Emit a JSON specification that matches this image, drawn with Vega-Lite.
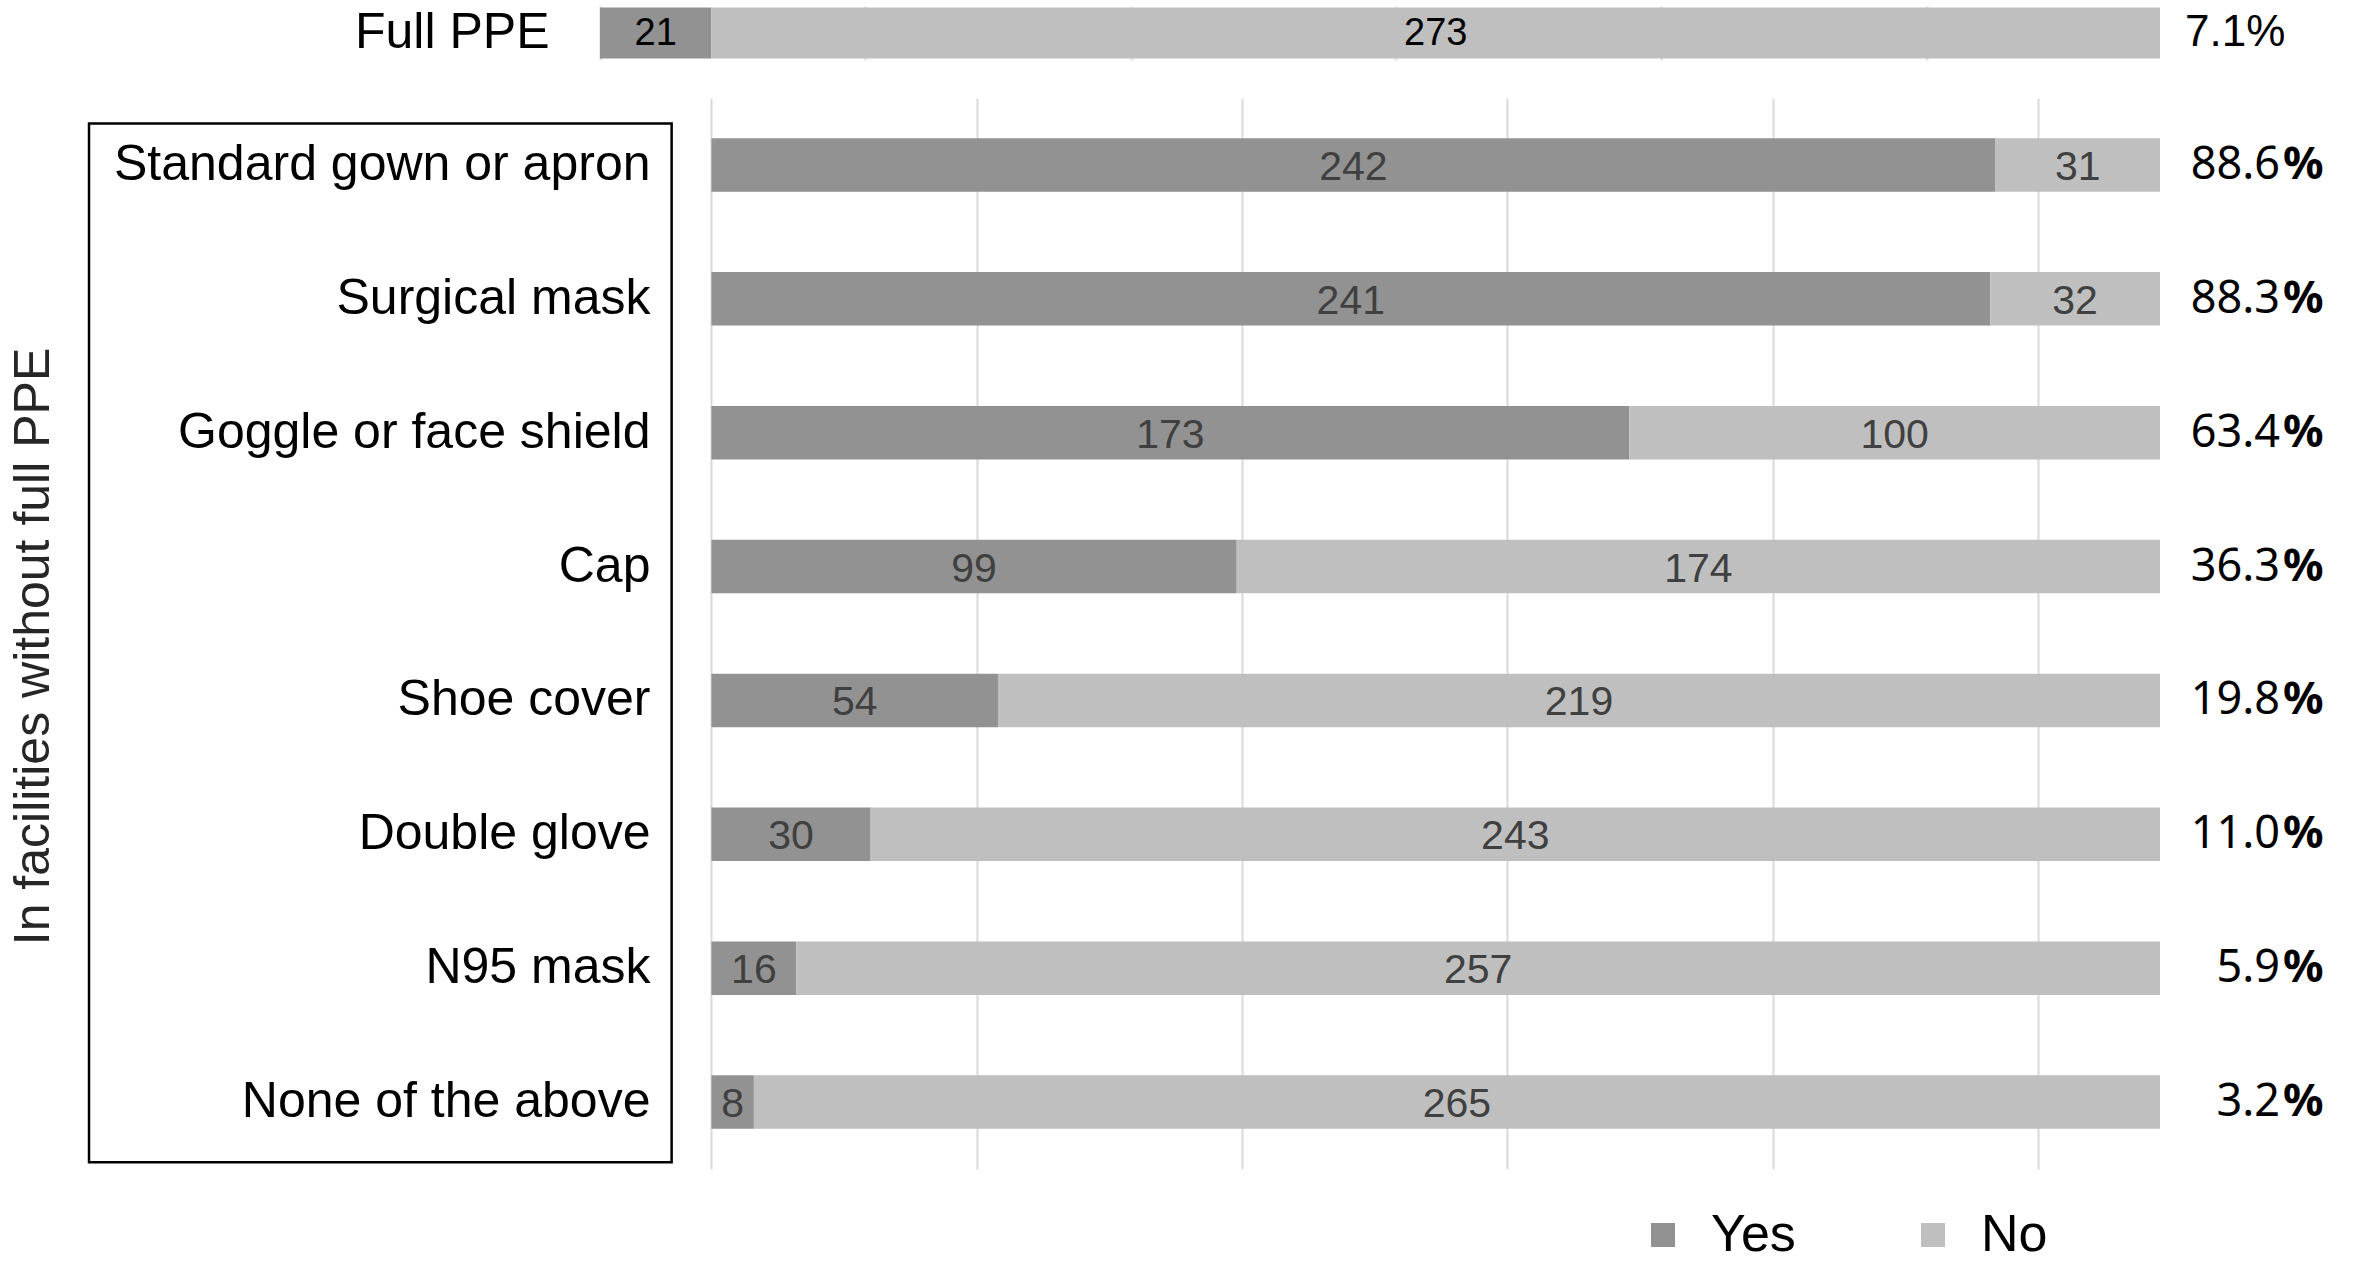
{
  "$schema": "https://vega.github.io/schema/vega-lite/v6.json",
  "background": "white",
  "autosize": {"type": "pad"},
  "padding": {"left": 8, "top": 6, "right": 5, "bottom": 5},
  "config": {
    "view": {"stroke": null},
    "concat": {"spacing": 38},
    "font": "Liberation Sans",
    "axis": {"gridColor": "#d9d9d9", "gridWidth": 2}
  },
  "datasets": {
    "full": [
      {"item": "Full PPE", "response": "Yes", "count": 21},
      {"item": "Full PPE", "response": "No", "count": 273}
    ],
    "fullpct": [{"item": "Full PPE", "pct": "7.1%"}],
    "main": [
      {"item": "Standard gown or apron", "response": "Yes", "count": 242},
      {"item": "Standard gown or apron", "response": "No", "count": 31},
      {"item": "Surgical mask", "response": "Yes", "count": 241},
      {"item": "Surgical mask", "response": "No", "count": 32},
      {"item": "Goggle or face shield", "response": "Yes", "count": 173},
      {"item": "Goggle or face shield", "response": "No", "count": 100},
      {"item": "Cap", "response": "Yes", "count": 99},
      {"item": "Cap", "response": "No", "count": 174},
      {"item": "Shoe cover", "response": "Yes", "count": 54},
      {"item": "Shoe cover", "response": "No", "count": 219},
      {"item": "Double glove", "response": "Yes", "count": 30},
      {"item": "Double glove", "response": "No", "count": 243},
      {"item": "N95 mask", "response": "Yes", "count": 16},
      {"item": "N95 mask", "response": "No", "count": 257},
      {"item": "None of the above", "response": "Yes", "count": 8},
      {"item": "None of the above", "response": "No", "count": 265}
    ],
    "mainpct": [
      {"item": "Standard gown or apron", "pct": "88.6"},
      {"item": "Surgical mask", "pct": "88.3"},
      {"item": "Goggle or face shield", "pct": "63.4"},
      {"item": "Cap", "pct": "36.3"},
      {"item": "Shoe cover", "pct": "19.8"},
      {"item": "Double glove", "pct": "11.0"},
      {"item": "N95 mask", "pct": "5.9"},
      {"item": "None of the above", "pct": "3.2"}
    ]
  },
  "vconcat": [
    {
      "width": 1560,
      "height": 54,
      "layer": [
        {
          "data": {"name": "full"},
          "mark": {"type": "bar"},
          "encoding": {
            "y": {"field": "item", "type": "nominal", "scale": {"paddingInner": 0, "paddingOuter": 0.03},
              "axis": {"title": null, "ticks": false, "domain": false, "labelFontSize": 50, "labelColor": "#000", "labelPadding": 51, "labelLimit": 1000}},
            "x": {"field": "count", "type": "quantitative", "stack": "zero", "scale": {"domain": [0, 294], "nice": false},
              "axis": {"title": null, "values": [0, 50, 100, 150, 200, 250], "labels": false, "ticks": false, "domain": false, "grid": true}},
            "color": {"field": "response", "type": "nominal",
              "scale": {"domain": ["Yes", "No"], "range": ["#929292", "#bfbfbf"]},
              "legend": {"orient": "none", "direction": "horizontal", "legendX": 1037, "legendY": 1203, "title": null,
                "symbolType": "square", "symbolSize": 576, "symbolStrokeWidth": 0, "labelFontSize": 52,
                "labelColor": "#000", "columnPadding": 111, "labelOffset": 22}},
            "order": {"field": "response", "sort": "descending"}
          }
        },
        {
          "data": {"name": "full"},
          "mark": {"type": "text", "fontSize": 38, "color": "#000", "baseline": "middle", "dy": 1},
          "encoding": {
            "y": {"field": "item", "type": "nominal"},
            "x": {"field": "count", "type": "quantitative", "stack": "zero", "bandPosition": 0.5},
            "detail": {"field": "response"},
            "order": {"field": "response", "sort": "descending"},
            "text": {"field": "count", "type": "quantitative"}
          }
        },
        {
          "data": {"name": "fullpct"},
          "mark": {"type": "text", "fontSize": 44, "color": "#000", "align": "left", "baseline": "middle", "dx": 25},
          "encoding": {
            "y": {"field": "item", "type": "nominal"},
            "x": {"datum": 294},
            "text": {"field": "pct"}
          }
        }
      ]
    },
    {
      "width": 1560,
      "height": 1071,
      "layer": [
        {
          "data": {"values": [{}]},
          "mark": {"type": "rect", "filled": false, "stroke": "#000", "strokeWidth": 2.5},
          "encoding": {
            "x": {"datum": -117.3},
            "x2": {"datum": -7.5},
            "y": {"datum": 0.19, "type": "quantitative", "scale": {"domain": [0, 8], "reverse": true, "nice": false, "zero": false}, "axis": null},
            "y2": {"datum": 7.95}
          }
        },
        {
          "data": {"name": "main"},
          "layer": [
            {
              "mark": {"type": "bar"},
              "encoding": {
                "y": {"field": "item", "type": "nominal", "sort": ["Standard gown or apron", "Surgical mask", "Goggle or face shield", "Cap", "Shoe cover", "Double glove", "N95 mask", "None of the above"],
                  "scale": {"paddingInner": 0.6, "paddingOuter": 0.3},
                  "axis": {"offset": -110, "labelPadding": 60, "ticks": false, "domain": false, "labelFontSize": 50, "labelColor": "#000", "labelLimit": 1000,
                    "title": "In facilities without full PPE", "titleFontSize": 50, "titleFontWeight": "normal", "titleColor": "#262626", "titlePadding": 452, "titleY": 548}},
                "x": {"field": "count", "type": "quantitative", "stack": "zero", "scale": {"domain": [-21, 273], "nice": false, "zero": false},
                  "axis": {"title": null, "values": [0, 50, 100, 150, 200, 250], "labels": false, "ticks": false, "domain": false, "grid": true}},
                "color": {"field": "response", "type": "nominal"},
                "order": {"field": "response", "sort": "descending"}
              }
            },
            {
              "mark": {"type": "text", "fontSize": 41, "color": "#404040", "baseline": "middle", "dy": 3},
              "encoding": {
                "y": {"field": "item", "type": "nominal", "sort": ["Standard gown or apron", "Surgical mask", "Goggle or face shield", "Cap", "Shoe cover", "Double glove", "N95 mask", "None of the above"]},
                "x": {"field": "count", "type": "quantitative", "stack": "zero", "bandPosition": 0.5},
                "detail": {"field": "response"},
                "order": {"field": "response", "sort": "descending"},
                "text": {"field": "count", "type": "quantitative"}
              }
            },
            {
              "data": {"name": "mainpct"},
              "mark": {"type": "text", "font": "Noto Sans", "fontSize": 45, "color": "#000", "align": "right", "baseline": "middle", "dx": 120},
              "encoding": {
                "y": {"field": "item", "type": "nominal", "sort": ["Standard gown or apron", "Surgical mask", "Goggle or face shield", "Cap", "Shoe cover", "Double glove", "N95 mask", "None of the above"]},
                "x": {"datum": 273},
                "text": {"field": "pct"}
              }
            },
            {
              "data": {"name": "mainpct"},
              "mark": {"type": "text", "font": "Noto Sans", "fontSize": 45, "fontWeight": "bold", "color": "#000", "align": "left", "baseline": "middle", "dx": 123},
              "encoding": {
                "y": {"field": "item", "type": "nominal", "sort": ["Standard gown or apron", "Surgical mask", "Goggle or face shield", "Cap", "Shoe cover", "Double glove", "N95 mask", "None of the above"]},
                "x": {"datum": 273},
                "text": {"value": "%"}
              }
            }
          ]
        }
      ],
      "resolve": {"scale": {"y": "independent"}, "axis": {"y": "independent"}}
    }
  ],
  "resolve": {"scale": {"x": "independent", "y": "independent", "color": "shared"}}
}
